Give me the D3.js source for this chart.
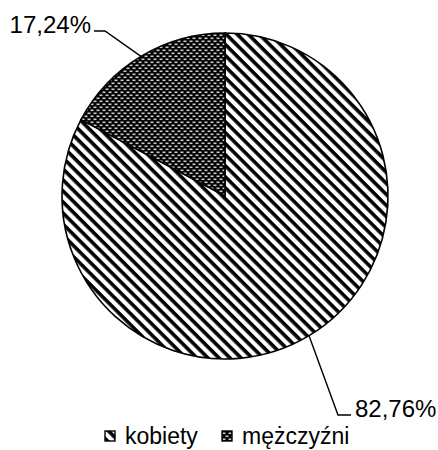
<!DOCTYPE html>
<html><head><meta charset="utf-8">
<script src="https://cdn.jsdelivr.net/npm/d3@7"></script>
<style>html,body{margin:0;padding:0;background:#fff;}svg{display:block;}</style>
</head><body>
<script>
const categories = ["kobiety", "mężczyźni"];
const values = [82.76, 17.24];
const valueLabels = ["82,76%", "17,24%"];

const W = 438, H = 450;
const cx = 225, cy = 196, R = 163;
const svg = d3.select("body").append("svg").attr("width", W).attr("height", H);
const defs = svg.append("defs");

// diagonal stripes "\"
const sp = 7.8;
const p1 = defs.append("pattern").attr("id", "stripes").attr("patternUnits", "userSpaceOnUse")
  .attr("width", sp).attr("height", sp).attr("patternTransform", "rotate(45)");
p1.append("rect").attr("width", sp).attr("height", sp).attr("fill", "#fff");
p1.append("rect").attr("width", sp).attr("height", 3.6).attr("fill", "#000");

// dotted dark pattern
const p2 = defs.append("pattern").attr("id", "dots").attr("patternUnits", "userSpaceOnUse")
  .attr("width", 6).attr("height", 6);
p2.append("rect").attr("width", 6).attr("height", 6).attr("fill", "#000");
p2.append("rect").attr("x", 0.5).attr("y", 0.5).attr("width", 3).attr("height", 1.6).attr("fill", "#ccc");
p2.append("rect").attr("x", 3.5).attr("y", 3.5).attr("width", 3).attr("height", 1.6).attr("fill", "#ccc");
p2.append("rect").attr("x", -2.5).attr("y", 3.5).attr("width", 3).attr("height", 1.6).attr("fill", "#ccc");

const fills = ["url(#stripes)", "url(#dots)"];
const data = categories.map((c, i) => ({cat: c, value: values[i], label: valueLabels[i], fill: fills[i]}));

const pie = d3.pie().value(d => d.value).sort(null);
const arc = d3.arc().innerRadius(0).outerRadius(R);
const edge = d3.arc().innerRadius(R).outerRadius(R);
const arcs = pie(data);

const g = svg.append("g").attr("transform", `translate(${cx},${cy})`);
g.selectAll("path.slice").data(arcs).enter().append("path")
  .attr("class", "slice").attr("d", arc).attr("fill", d => d.data.fill)
  .attr("stroke", "#000").attr("stroke-width", 1.6);

const font = "Liberation Sans, Arial, sans-serif";
// labels with leader lines (layout positions)
const labelLayout = [
  {elbow: [338, 415], end: [351, 415], tx: 355, ty: 417, anchor: "start"},
  {elbow: [105, 31], end: [94, 31], tx: 91, ty: 33, anchor: "end"}
];
arcs.forEach((a, i) => {
  const c = edge.centroid(a);
  const L = labelLayout[i];
  const pts = [[cx + c[0], cy + c[1]], L.elbow, L.end];
  svg.append("path").attr("d", d3.line()(pts)).attr("fill", "none")
    .attr("stroke", "#000").attr("stroke-width", 1.4);
  svg.append("text").attr("x", L.tx).attr("y", L.ty).attr("text-anchor", L.anchor)
    .attr("font-family", font).attr("font-size", 24)
    .attr("fill", "#000").text(a.data.label);
});

// legend
const legendX = [105, 222];
const lg = svg.append("g");
data.forEach((d, i) => {
  lg.append("rect").attr("x", legendX[i]).attr("y", 431).attr("width", 10).attr("height", 10)
    .attr("fill", d.fill).attr("stroke", "#000").attr("stroke-width", 1.4);
  lg.append("text").attr("x", legendX[i] + 20).attr("y", 444)
    .attr("font-family", font).attr("font-size", 23)
    .attr("fill", "#000").text(d.cat);
});
</script>
</body></html>
